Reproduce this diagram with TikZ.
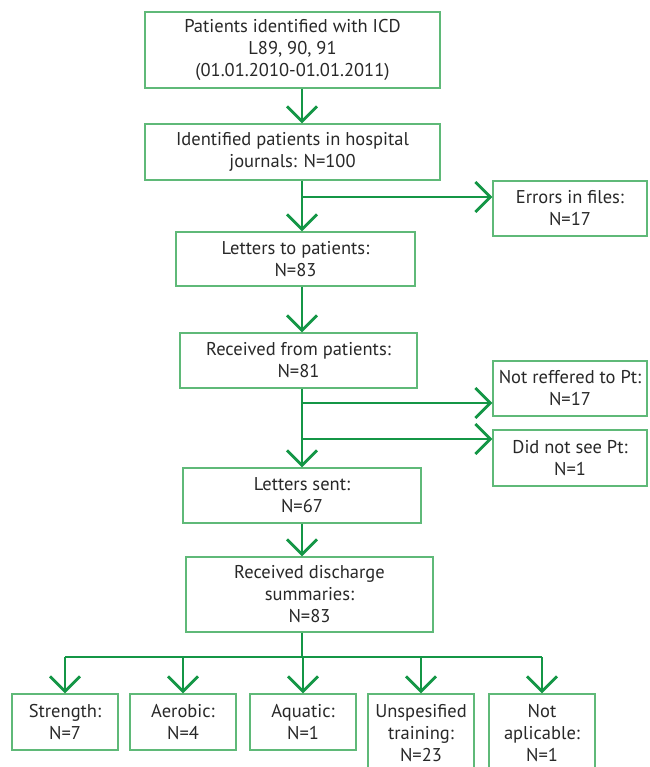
\documentclass[tikz,border=0pt]{standalone}
\usepackage{fontspec}
\setmainfont{PT Sans}
\usepackage{tikz}
\usetikzlibrary{calc,arrows.meta}
\definecolor{boxgreen}{RGB}{95,185,120}
\definecolor{flowgreen}{RGB}{20,150,70}
\definecolor{textgray}{RGB}{40,40,40}
\tikzset{
% Boxes with a thin light green frame, arrows thick with an open head
stage box/.style={draw=boxgreen,line width=1.3pt,inner sep=0pt,align=center,text=textgray},
flow line/.style={draw=flowgreen,line width=2.8pt},
flow arrow/.style={flow line,-{Straight Barb[length=15pt,width=30pt,line width=2.8pt]}}
}
\begin{document}
\begin{tikzpicture}[x=1pt,y=-1pt,font=\fontsize{18.5}{22}\selectfont]
\useasboundingbox (0,0) rectangle (649,767);
% Main column
\node(ident)[stage box,minimum width=295,minimum height=76] at (292.5,50)
{Patients identified with ICD\\L89, 90, 91\\(01.01.2010-01.01.2011)};
\node(journ)[stage box,minimum width=295,minimum height=56] at (292.5,152)
{Identified patients in hospital\\journals: N=100};
\node(letpat)[stage box,minimum width=239,minimum height=54] at (295.5,259)
{Letters to patients:\\N=83};
\node(recpat)[stage box,minimum width=237,minimum height=55] at (298.5,360.5)
{Received from patients:\\N=81};
\node(sent)[stage box,minimum width=238,minimum height=55] at (302,495.5)
{Letters sent:\\N=67};
\node(disch)[stage box,minimum width=247,minimum height=75] at (309.5,594.5)
{Received discharge\\summaries:\\N=83};
% Side boxes
\node(errors)[stage box,minimum width=154,minimum height=55] at (570,208.5)
{Errors in files:\\N=17};
\node(notref)[stage box,minimum width=154,minimum height=55] at (570,388.5)
{Not reffered to Pt:\\N=17};
\node(notsee)[stage box,minimum width=154,minimum height=56] at (570,458)
{Did not see Pt:\\N=1};
% Training types
\node(strength)[stage box,minimum width=106,minimum height=56] at (65,722){Strength:\\N=7};
\node(aerobic)[stage box,minimum width=106,minimum height=56] at (183,722){Aerobic:\\N=4};
\node(aquatic)[stage box,minimum width=106,minimum height=56] at (303,722){Aquatic:\\N=1};
\node(unspec)[stage box,minimum width=106,minimum height=78] at (421,733){Unspesified\\training:\\N=23};
\node(notapp)[stage box,minimum width=106,minimum height=78] at (542,733){Not\\aplicable:\\N=1};
% Trunk and branch points
\coordinate(axis) at (302,0);
\coordinate(b1) at (302,197);
\coordinate(b2) at (302,403);
\coordinate(b3) at (302,439);
\coordinate(hub) at (302,657);
% Arrows
\draw[flow arrow](ident.south -| axis)--(journ.north -| axis);
\draw[flow arrow](journ.south -| axis)--(letpat.north -| axis);
\draw[flow arrow](b1)--(b1 -| errors.west);
\draw[flow arrow](letpat.south -| axis)--(recpat.north -| axis);
\draw[flow arrow](recpat.south -| axis)--(sent.north -| axis);
\draw[flow arrow](b2)--(b2 -| notref.west);
\draw[flow arrow](b3)--(b3 -| notsee.west);
\draw[flow arrow](sent.south -| axis)--(disch.north -| axis);
\draw[flow line](disch.south -| axis)--(hub);
\draw[flow line](hub -| strength.north)--(hub -| notapp.north);
\foreach \t in {strength,aerobic,aquatic,unspec,notapp}
\draw[flow arrow](hub -| \t.north)--(\t.north);
\end{tikzpicture}
\end{document}
